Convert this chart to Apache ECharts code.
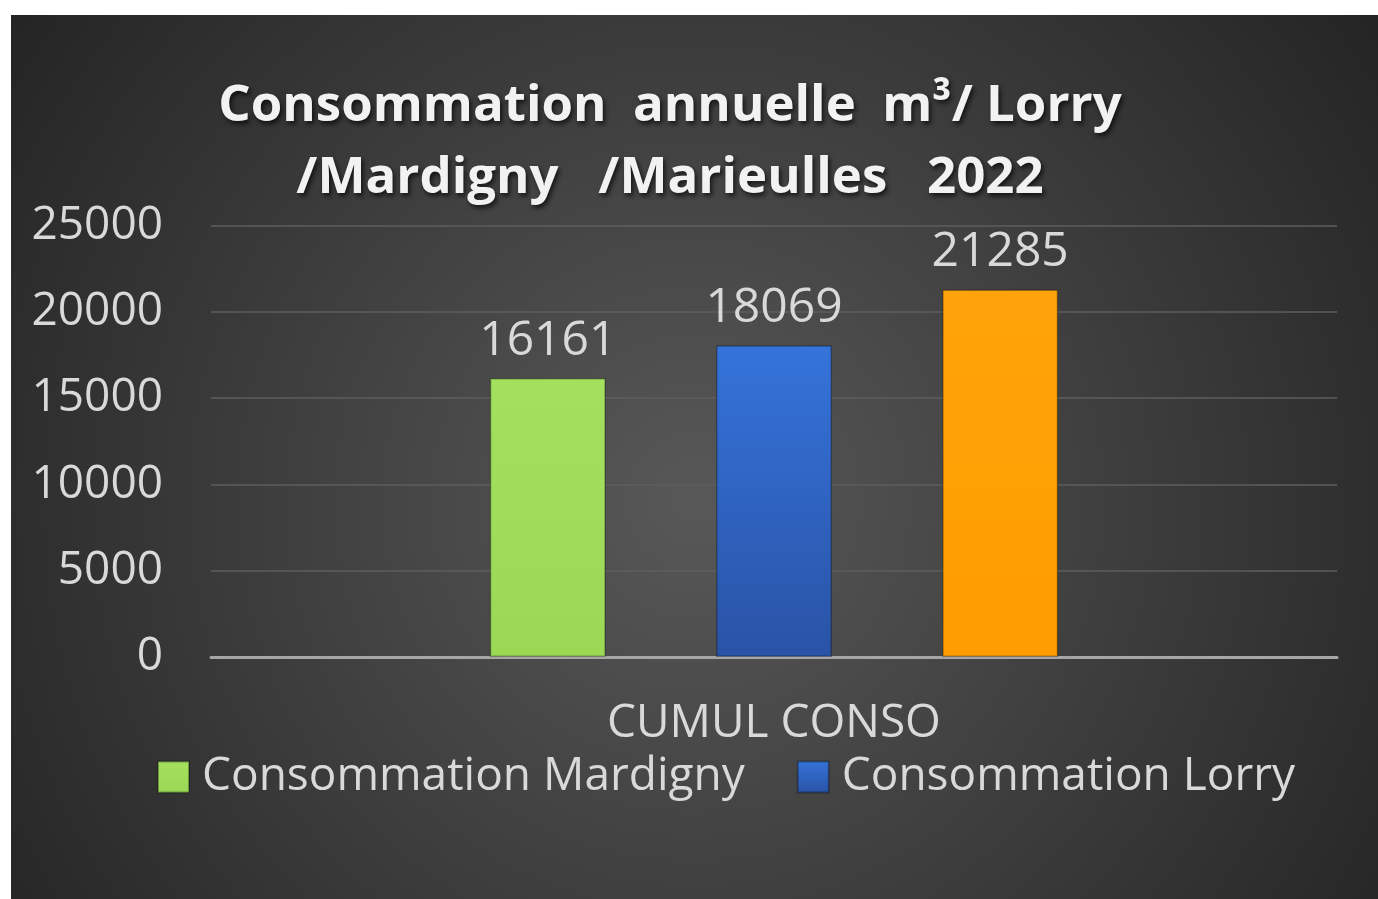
<!DOCTYPE html>
<html>
<head>
<meta charset="utf-8">
<script src="https://cdn.jsdelivr.net/npm/echarts@6/dist/echarts.min.js"></script>
<style>
  html, body { margin: 0; padding: 0; background: #fff; }
  #chart { position: absolute; left: 11px; top: 15px; width: 1367px; height: 884px; }
</style>
</head>
<body>
<div id="chart"></div>
<script>
var categories = ["CUMUL CONSO"];
var seriesNames = ["Consommation Mardigny", "Consommation Lorry", "Consommation Marieulles"];
var mardigny = [16161];
var lorry = [18069];
var marieulles = [21285];
var legendNames = ["Consommation Mardigny", "Consommation Lorry"];
var yTicks = [0, 5000, 10000, 15000, 20000, 25000];

var labelFont = "'Open Sans', sans-serif";

function barSeries(name, data, color) {
  return {
    name: name,
    type: "bar",
    data: data,
    barWidth: 116,
    barGap: "95%",
    itemStyle: { color: color, borderColor: "rgba(0,0,0,0.3)", borderWidth: 1.5 },
    label: {
      show: true,
      position: "top",
      distance: 13,
      color: "#d9d9d9",
      fontFamily: labelFont,
      fontSize: 48
    }
  };
}

var myChart = echarts.init(document.getElementById("chart"));
myChart.setOption({
  backgroundColor: {
    type: "radial", x: 0.5, y: 0.55, r: 0.95,
    colorStops: [
      { offset: 0, color: "#585858" },
      { offset: 1, color: "#242424" }
    ]
  },
  title: {
    text: "Consommation  annuelle  m³/ Lorry\n/Mardigny   /Marieulles   2022",
    left: 654,
    top: 50,
    textAlign: "center",
    textStyle: {
      color: "#f2f2f2",
      fontFamily: labelFont,
      fontWeight: "bold",
      fontSize: 51,
      lineHeight: 72,
      textShadowColor: "rgba(0,0,0,0.7)",
      textShadowBlur: 5,
      textShadowOffsetX: 2,
      textShadowOffsetY: 3
    }
  },
  grid: { left: 200, right: 41, top: 210.5, bottom: 242, containLabel: false },
  legend: {
    data: legendNames,
    icon: "rect",
    left: 141,
    top: 734,
    itemWidth: 31,
    itemHeight: 31,
    itemGap: 52,
    textStyle: { color: "#d9d9d9", fontFamily: labelFont, fontSize: 46, padding: [0, 0, 0, 8] }
  },
  xAxis: {
    type: "category",
    data: categories,
    axisLine: { lineStyle: { color: "#a6a6a6", width: 3 } },
    axisTick: { show: false },
    axisLabel: { color: "#d9d9d9", fontFamily: labelFont, fontSize: 46, margin: 44 }
  },
  yAxis: {
    type: "value",
    min: yTicks[0],
    max: yTicks[yTicks.length - 1],
    interval: 5000,
    axisLine: { show: false },
    axisTick: { show: false },
    splitLine: { lineStyle: { color: "#5e5e5e", width: 1.5 } },
    axisLabel: {
      color: "#d9d9d9", fontFamily: labelFont, fontSize: 46, margin: 48,
      formatter: function (v) { return String(v); }
    }
  },
  series: [
    barSeries(seriesNames[0], mardigny, {
      type: "linear", x: 0, y: 0, x2: 0, y2: 1,
      colorStops: [{ offset: 0, color: "#a2e05e" }, { offset: 1, color: "#9bd955" }]
    }),
    barSeries(seriesNames[1], lorry, {
      type: "linear", x: 0, y: 0, x2: 0, y2: 1,
      colorStops: [{ offset: 0, color: "#3573da" }, { offset: 1, color: "#2953a6" }]
    }),
    barSeries(seriesNames[2], marieulles, {
      type: "linear", x: 0, y: 0, x2: 0, y2: 1,
      colorStops: [{ offset: 0, color: "#ffa30a" }, { offset: 1, color: "#ff9d00" }]
    })
  ]
});

window.addEventListener("resize", () => { myChart.resize(); });
</script>
</body>
</html>
